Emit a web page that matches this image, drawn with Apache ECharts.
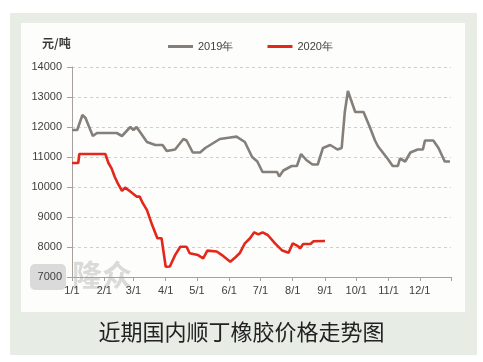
<!DOCTYPE html>
<html><head><meta charset="utf-8">
<script src="https://cdn.jsdelivr.net/npm/echarts@6/dist/echarts.min.js"></script>
<style>html,body{margin:0;padding:0;background:#fff}#c{width:483px;height:362px}</style>
</head><body><div id="c"></div>
<script>
// Tick labels (month starts on the x axis)
var monthTicks = ['1/1','2/1','3/1','4/1','5/1','6/1','7/1','8/1','9/1','10/1','11/1','12/1'];
var yTicks = [7000, 8000, 9000, 10000, 11000, 12000, 13000, 14000];
var seriesNames = ['2019年', '2020年'];
var unitLabel = '元/吨';
var caption = '近期国内顺丁橡胶价格走势图';

// 2019 series: dates (M/D) and prices
var dates2019 = ['1/1','1/6','1/11','1/14','1/21','1/25','2/13','2/18','2/26','3/1','3/4','3/14','3/22','3/29','4/2','4/10','4/18','4/21','4/27','5/4','5/9','5/16','5/23','6/2','6/8','6/16','6/23','6/28','7/3','7/17','7/19','7/23','7/31','8/5','8/9','8/14','8/20','8/25','8/30','9/6','9/13','9/17','9/20','9/23','9/27','9/30','10/8','10/14','10/19','10/22','10/31','11/5','11/10','11/12','11/17','11/22','11/29','12/4','12/6','12/14','12/19','12/25','12/30'];
var values2019 = [11900,11900,12400,12300,11700,11800,11800,11700,12000,11900,12000,11500,11400,11400,11200,11250,11600,11550,11150,11150,11300,11450,11600,11650,11680,11500,11000,10850,10500,10500,10350,10550,10700,10700,11100,10900,10750,10750,11300,11400,11250,11300,12500,13200,12800,12500,12500,12000,11550,11350,10950,10700,10700,10950,10850,11150,11250,11250,11550,11550,11300,10850,10850];

// 2020 series: dates (M/D) and prices
var dates2020 = ['1/1','1/7','1/8','2/2','2/5','2/8','2/11','2/14','2/18','2/21','2/26','3/4','3/7','3/10','3/14','3/19','3/24','3/28','4/1','4/5','4/10','4/15','4/21','4/24','5/2','5/7','5/11','5/20','5/25','6/2','6/7','6/11','6/16','6/21','6/25','6/29','7/3','7/8','7/15','7/22','7/28','8/1','8/6','8/8','8/11','8/18','8/21','9/1'];
var values2020 = [10800,10800,11100,11100,10800,10620,10340,10120,9870,9980,9850,9680,9680,9460,9230,8730,8290,8290,7340,7350,7730,8010,8010,7790,7730,7620,7880,7850,7730,7510,7660,7790,8120,8290,8490,8420,8490,8400,8120,7880,7810,8120,8030,7950,8100,8100,8190,8200];

// daily categories for the x axis domain
var days = [];
for (var i = 0; i < 365; i++) {
  var dt = new Date(2019, 0, 1 + i);
  days.push((dt.getMonth() + 1) + '/' + dt.getDate());
}
function pairs(ds, vs) { return ds.map(function (d, k) { return [d, vs[k]]; }); }

var chart = echarts.init(document.getElementById('c'));
var numFont = 'Liberation Sans';
chart.setOption({
  animation: false,
  backgroundColor: '#ffffff',
  graphic: [
    { type: 'rect', z: -10, shape: { x: 10, y: 13, width: 467, height: 342 }, style: { fill: '#e7ece5' } },
    { type: 'rect', z: -9, shape: { x: 21, y: 23, width: 444, height: 289 }, style: { fill: '#fdfdfc' } },
    { type: 'rect', z: -5, shape: { x: 30, y: 264, width: 36, height: 26, r: 5 }, style: { fill: 'rgba(140,140,140,0.3)' } },
    { type: 'text', z: -5, left: 72, top: 260, style: { text: '隆众', font: 'bold 30px "Noto Sans CJK SC"', fill: 'rgba(140,140,140,0.3)' } },
    { type: 'text', left: 42, top: 37, style: { text: unitLabel, font: 'bold 12px "Noto Sans CJK SC"', fill: '#3a3a3a' } },
    { type: 'text', left: 'center', top: 321, style: { text: caption, font: '22px "Noto Sans CJK SC"', fill: '#222222' } }
  ],
  legend: {
    left: 163, top: 36, itemGap: 34, itemWidth: 25, itemHeight: 3, icon: 'rect',
    textStyle: { fontSize: 11, color: '#404040', fontFamily: numFont },
    data: seriesNames
  },
  grid: { left: 72, right: 32, top: 67, bottom: 85 },
  xAxis: {
    type: 'category', data: days, boundaryGap: false,
    axisLine: { lineStyle: { color: '#a8a09a', width: 1 } },
    axisTick: { length: 4, lineStyle: { color: '#a8a09a' },
      interval: function (idx, val) { return monthTicks.indexOf(val) >= 0 || idx === 364; } },
    axisLabel: { color: '#404040', fontSize: 11, fontFamily: numFont, margin: 8,
      interval: function (idx, val) { return monthTicks.indexOf(val) >= 0; } },
    splitLine: { show: false }
  },
  yAxis: {
    type: 'value', min: yTicks[0], max: yTicks[yTicks.length - 1], interval: 1000,
    axisLine: { show: true, lineStyle: { color: '#a8a09a' } },
    axisTick: { show: true, length: 5, lineStyle: { color: '#a8a09a' } },
    axisLabel: { color: '#404040', fontSize: 11, fontFamily: numFont, margin: 10,
      formatter: function (v) { return String(v); } },
    splitLine: { lineStyle: { color: '#d6cdc4', type: [3, 3], width: 1 } }
  },
  series: [
    { name: seriesNames[0], type: 'line', symbol: 'none', data: pairs(dates2019, values2019),
      lineStyle: { color: '#857f79', width: 2.6 }, itemStyle: { color: '#857f79' } },
    { name: seriesNames[1], type: 'line', symbol: 'none', data: pairs(dates2020, values2020),
      lineStyle: { color: '#e3281b', width: 2.6 }, itemStyle: { color: '#e3281b' } }
  ]
});
</script></body></html>
